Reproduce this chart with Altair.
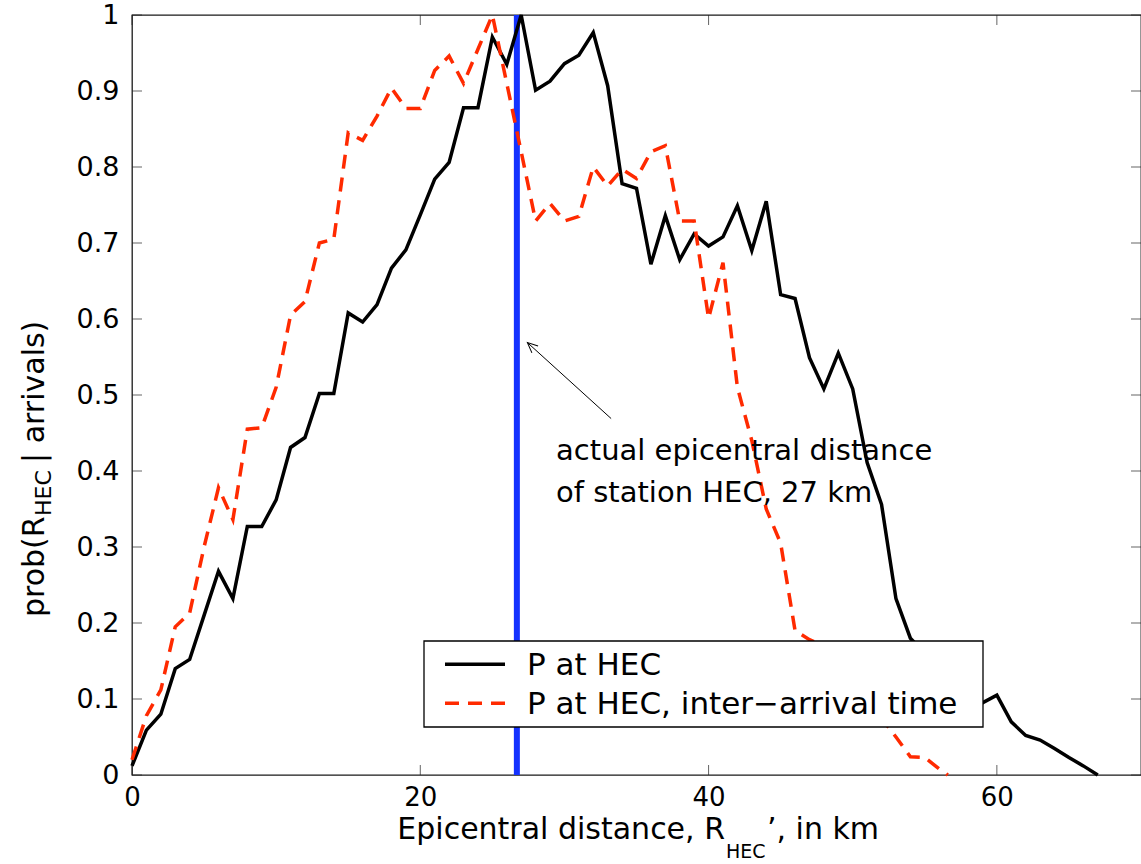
import altair as alt
import pandas as pd

# ---------------- data ----------------
series_names = ["P at HEC", "P at HEC, inter\u2212arrival time"]

x_km = list(range(0, 68))
p_hec = [0.012, 0.059, 0.080, 0.140, 0.152, 0.210, 0.268, 0.232, 0.327, 0.327,
         0.362, 0.431, 0.444, 0.502, 0.502, 0.608, 0.596, 0.619, 0.667, 0.691,
         0.737, 0.784, 0.806, 0.878, 0.878, 0.971, 0.935, 1.000, 0.901, 0.913,
         0.936, 0.947, 0.977, 0.907, 0.778, 0.772, 0.672, 0.736, 0.678, 0.712,
         0.696, 0.708, 0.749, 0.690, 0.755, 0.632, 0.627, 0.549, 0.508, 0.555,
         0.508, 0.411, 0.356, 0.232, 0.180, 0.160, 0.145, 0.125, 0.110, 0.095,
         0.105, 0.070, 0.052, 0.046, 0.035, 0.023, 0.012, 0.000]

x_km_iat = list(range(0, 57)) + [56.6]
p_hec_iat = [0.020, 0.078, 0.112, 0.195, 0.213, 0.300, 0.378, 0.336, 0.455, 0.457,
             0.510, 0.605, 0.623, 0.700, 0.705, 0.845, 0.835, 0.867, 0.904, 0.877,
             0.877, 0.927, 0.946, 0.910, 0.955, 1.000, 0.910, 0.820, 0.729, 0.752,
             0.729, 0.735, 0.800, 0.775, 0.797, 0.785, 0.820, 0.828, 0.729, 0.729,
             0.601, 0.674, 0.510, 0.440, 0.350, 0.305, 0.190, 0.178, 0.170, 0.150,
             0.125, 0.100, 0.075, 0.050, 0.024, 0.023, 0.008, 0.000]

station_distance = [26.7]
x_ticks = [0, 20, 40, 60]
y_ticks = [0, 0.1, 0.2, 0.3, 0.4, 0.5, 0.6, 0.7, 0.8, 0.9, 1]

annotation_lines = ["actual epicentral distance", "of station HEC, 27 km"]
annotation_x = [29.42, 29.42]
annotation_y = [0.4145, 0.3596]
arrow_tail = (33.24, 0.469)
arrow_tip = (27.43, 0.569)

# ---------------- style ----------------
FONT = "DejaVu Sans"
RED = "#FF2A00"
BLUE = "#1432FF"
TICK = "#222222"
W, H = 1009, 760
NB = "\u00a0"

xscale = alt.Scale(domain=[0, 70], nice=False, zero=False)
yscale = alt.Scale(domain=[0, 1], nice=False, zero=False)
xaxis = alt.Axis(values=x_ticks, title=None, ticks=False, domain=False, grid=False,
                 labelFont=FONT, labelFontSize=26, labelColor="black", labelPadding=9,
                 labelFlush=False, labelOverlap=False)
yaxis = alt.Axis(values=y_ticks, format=".1~f", title=None, ticks=False, domain=False,
                 grid=False, labelFont=FONT, labelFontSize=27, labelColor="black",
                 labelPadding=13, labelFlush=False, labelOverlap=False)


def X(field):
    return alt.X(field, scale=xscale, axis=xaxis)


def Y(field):
    return alt.Y(field, scale=yscale, axis=yaxis)


black_df = pd.DataFrame({"x": x_km, "y": p_hec, "series": series_names[0]})
red_df = pd.DataFrame({"x": x_km_iat, "y": p_hec_iat, "series": series_names[1]})

station = alt.Chart(pd.DataFrame({"x": station_distance, "lo": [0], "hi": [1]})).mark_rule(
    color=BLUE, strokeWidth=6).encode(x=X("x:Q"), y=Y("lo:Q"), y2="hi:Q")

black_line = alt.Chart(black_df).mark_line(color="black", strokeWidth=3.5).encode(
    x=X("x:Q"), y=Y("y:Q"))
red_line = alt.Chart(red_df).mark_line(color=RED, strokeWidth=3.5, strokeDash=[14, 9]).encode(
    x=X("x:Q"), y=Y("y:Q"))

# inward tick marks on all four sides
xt = pd.DataFrame({"t": x_ticks})
yt = pd.DataFrame({"t": y_ticks})
bottom_ticks = alt.Chart(xt).mark_tick(orient="vertical", size=10, thickness=1, color=TICK).encode(
    x=X("t:Q"), y=alt.value(H - 5))
top_ticks = alt.Chart(xt).mark_tick(orient="vertical", size=10, thickness=1, color=TICK).encode(
    x=X("t:Q"), y=alt.value(5))
left_ticks = alt.Chart(yt).mark_tick(orient="horizontal", size=10, thickness=1, color=TICK).encode(
    y=Y("t:Q"), x=alt.value(5))
right_ticks = alt.Chart(yt).mark_tick(orient="horizontal", size=10, thickness=1, color=TICK).encode(
    y=Y("t:Q"), x=alt.value(W - 5))

# annotation
ann_df = pd.DataFrame({"x": annotation_x, "y": annotation_y, "text": annotation_lines})
ann_text = alt.Chart(ann_df).mark_text(align="left", baseline="alphabetic", font=FONT,
                                       fontSize=29, color="black").encode(
    x=X("x:Q"), y=Y("y:Q"), text="text:N")
arrow_df = pd.DataFrame({"x": [arrow_tail[0]], "y": [arrow_tail[1]],
                         "x2": [arrow_tip[0]], "y2": [arrow_tip[1]]})
arrow_line = alt.Chart(arrow_df).mark_rule(color="black", strokeWidth=1).encode(
    x=X("x:Q"), y=Y("y:Q"), x2="x2:Q", y2="y2:Q")
arrow_head = alt.Chart(arrow_df).mark_point(shape="M-0.45,1L0,0L0.45,1", size=420, angle=312,
                                            filled=False, stroke="black", strokeWidth=1,
                                            opacity=1).encode(x=X("x2:Q"), y=Y("y2:Q"))

# legend (box, samples, labels)
one = pd.DataFrame({"a": [0]})
leg_box = alt.Chart(one).mark_rect(fill="white", stroke="black", strokeWidth=1.3).encode(
    x=alt.value(292), x2=alt.value(851), y=alt.value(626), y2=alt.value(712))
leg_black = alt.Chart(one).mark_rule(color="black", strokeWidth=3.5).encode(
    x=alt.value(313), x2=alt.value(373), y=alt.value(649.3))
leg_red = alt.Chart(one).mark_rule(color=RED, strokeWidth=3.5, strokeDash=[14, 9]).encode(
    x=alt.value(313), x2=alt.value(373), y=alt.value(688.3))


def txt(s, x, y, size, align="left", angle=0):
    kw = dict(align=align, baseline="alphabetic", font=FONT, fontSize=size, color="black")
    if angle:
        kw["angle"] = angle
    return alt.Chart(pd.DataFrame({"t": [s]})).mark_text(**kw).encode(
        x=alt.value(x), y=alt.value(y), text="t:N")


leg_text1 = txt(series_names[0], 395, 660, 31)
leg_text2 = txt(series_names[1], 395, 699.3, 31)

# axis titles with subscripts
xt_main = txt("Epicentral distance, R", 593, 824, 30, align="right")
xt_sub = txt("HEC", 594, 843, 19)
xt_rest = txt("\u2019, in km", 635, 824, 30)

yt_main = txt("prob(R", -88, 602, 30, angle=270)
yt_sub = txt("HEC", -81, 501, 22, angle=270)
yt_rest = txt(NB + "|" + NB + "arrivals)", -88, 448, 30, angle=270)

chart = alt.layer(
    station, black_line, red_line,
    bottom_ticks, top_ticks, left_ticks, right_ticks,
    ann_text, arrow_line, arrow_head,
    leg_box, leg_black, leg_red, leg_text1, leg_text2,
    xt_main, xt_sub, xt_rest, yt_main, yt_sub, yt_rest,
).properties(
    width=W, height=H,
    padding={"left": 132, "top": 15, "right": 0, "bottom": 89},
    autosize=alt.AutoSizeParams(type="none"),
    background="white",
).configure_view(stroke="#1a1a1a", strokeWidth=1.3)

chart.save("out.html", embed_options={"renderer": "svg", "actions": False})
